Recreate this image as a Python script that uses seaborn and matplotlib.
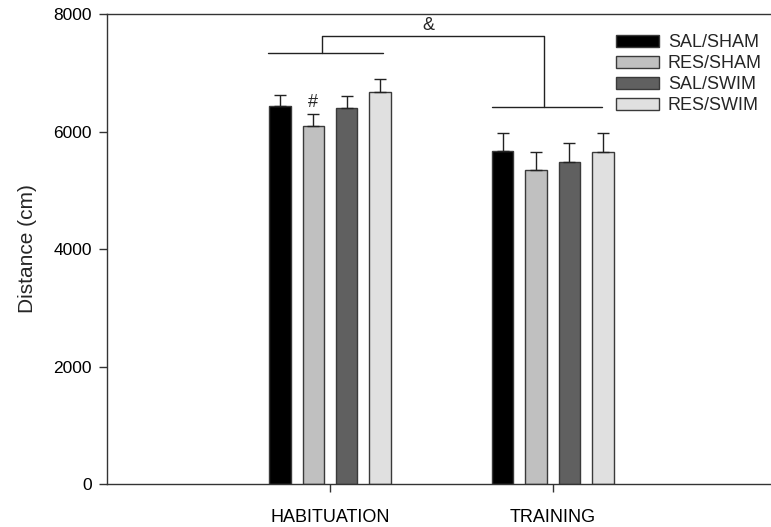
import numpy as np
import pandas as pd
import seaborn as sns
import matplotlib.pyplot as plt

# values
sessions = ["HABITUATION", "TRAINING"]
groups = ["SAL/SHAM", "RES/SHAM", "SAL/SWIM", "RES/SWIM"]
means_hab = [6430, 6100, 6395, 6680]
means_train = [5675, 5345, 5480, 5655]
sem_hab = [200, 200, 210, 210]
sem_train = [305, 305, 318, 322]
colors = ["#000000", "#c0c0c0", "#606060", "#e0e0e0"]

rows = []
for i, g in enumerate(groups):
    rows.append({"Session": sessions[0], "Group": g, "Distance": means_hab[i], "SEM": sem_hab[i]})
    rows.append({"Session": sessions[1], "Group": g, "Distance": means_train[i], "SEM": sem_train[i]})
df = pd.DataFrame(rows)

sns.set_style("ticks")
plt.rcParams["font.family"] = ["Liberation Sans", "DejaVu Sans"]

fig = plt.figure(figsize=(7.71, 5.27), dpi=100)
ax = fig.add_axes([0.139, 0.0816, 0.861, 0.8918])

sns.barplot(data=df, x="Session", y="Distance", hue="Group", order=sessions,
            hue_order=groups, palette=colors, errorbar=None, width=0.6, gap=0.36,
            edgecolor="#3a3a3a", linewidth=1.0, saturation=1, ax=ax)

# upper-only error bars
for cont, g in zip(ax.containers, groups):
    for bar, s in zip(cont, sessions):
        se = df[(df.Group == g) & (df.Session == s)]["SEM"].iloc[0]
        xc = bar.get_x() + bar.get_width() / 2
        ax.errorbar(xc, bar.get_height(), yerr=[[0], [se]], fmt="none",
                    ecolor="#222222", elinewidth=1.0, capsize=4.5, capthick=1.0)

# significance lines
lc = "#222222"
ax.plot([-0.276, 0.239], [7340, 7340], color=lc, lw=1)
ax.plot([0.729, 1.22], [6420, 6420], color=lc, lw=1)
ax.plot([-0.037, -0.037, 0.963, 0.963], [7340, 7625, 7625, 6420], color=lc, lw=1)
ax.text(0.44, 7810, "&", ha="center", va="center", fontsize=13)
ax.text(-0.075, 6500, "#", ha="center", va="center", fontsize=13)

ax.set_xlim(-1.0, 1.98)
ax.set_ylim(0, 8000)
ax.set_yticks([0, 2000, 4000, 6000, 8000])
ax.set_xlabel("")
ax.set_ylabel("Distance (cm)", fontsize=15, labelpad=12)
ax.tick_params(axis="both", labelsize=12.5, length=6, width=1, colors="#333333", labelcolor="black")
ax.tick_params(axis="x", labelsize=13, pad=12)
ax.tick_params(axis="y", pad=5)

for side in ["left", "bottom", "top"]:
    ax.spines[side].set_visible(True)
    ax.spines[side].set_color("#333333")
    ax.spines[side].set_linewidth(1.0)
ax.spines["right"].set_visible(False)

handles = [plt.Rectangle((0, 0), 1, 1, facecolor=c, edgecolor="#3a3a3a", lw=1) for c in colors]
ax.legend(handles, groups, loc="upper left", bbox_to_anchor=(0.755, 0.972), frameon=False,
          fontsize=13, handlelength=2.4, handleheight=0.65, handletextpad=0.5,
          labelspacing=0.22, borderaxespad=0)

fig.savefig("out.png", dpi=100)
